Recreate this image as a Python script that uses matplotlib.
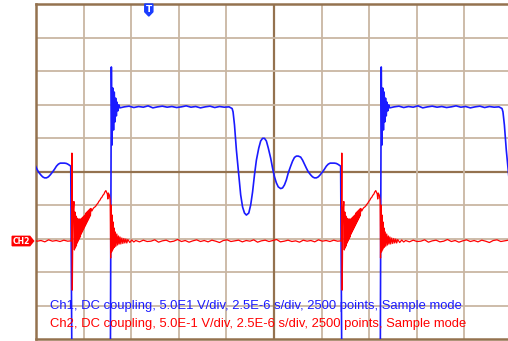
import numpy as np
import matplotlib
matplotlib.use("Agg")
import matplotlib.pyplot as plt
from matplotlib.patches import Polygon

# Screen units: 10 x 10 divisions, y = 0 at the centre line.
# 2.5E-6 s/div; Ch1 50 V/div, Ch2 0.5 V/div.

# Falling edges of Ch1 (the first one lies off-screen to the left)
EDGES = [-4.915, 0.755, 6.425]

# ---- Ch1, one period, time relative to the falling edge (div) ----
CH1_LOW_T = [0.000, 0.807]
CH1_LOW_V = [-6.0, -6.0]
CH1_RING_T = [0.828, 0.842, 0.859, 0.874, 0.889, 0.903, 0.918, 0.933, 0.947,
              0.964, 0.985, 1.006]
CH1_RING_V = [3.12, 0.79, 2.49, 1.24, 2.37, 1.48, 2.19, 1.66, 2.07, 1.81,
              1.99, 1.90]
CH1_FLAT_T = [1.10, 1.20, 1.30, 1.40, 1.50, 1.60, 1.70, 1.80, 1.90, 2.00,
              2.10, 2.20, 2.30, 2.40, 2.50, 2.60, 2.70, 2.80, 2.90, 3.00,
              3.10, 3.20, 3.30]
CH1_FLAT_V = [1.93, 1.95, 1.91, 1.94, 1.92, 1.96, 1.90, 1.93, 1.95, 1.92,
              1.94, 1.91, 1.93, 1.96, 1.92, 1.94, 1.90, 1.93, 1.95, 1.91,
              1.94, 1.92, 1.93]
CH1_FALL_T = [3.365, 3.385, 3.415, 3.455, 3.505, 3.545, 3.585, 3.625, 3.665,
              3.715, 3.755, 3.795, 3.835, 3.875, 3.925, 3.965, 4.005, 4.045,
              4.085, 4.125, 4.175, 4.215, 4.255, 4.295, 4.335, 4.385, 4.425,
              4.465, 4.505, 4.545, 4.595, 4.635, 4.675, 4.715, 4.755, 4.805,
              4.845, 4.885, 4.925, 4.965, 5.015, 5.055, 5.095, 5.135, 5.175,
              5.215, 5.265, 5.305, 5.345, 5.385, 5.425, 5.475, 5.515, 5.555,
              5.595, 5.645]
CH1_FALL_V = [1.88, 1.78, 1.39, 0.64, -0.10, -0.70, -1.06, -1.24, -1.30,
              -1.24, -1.00, -0.61, -0.10, 0.34, 0.70, 0.91, 0.99, 0.99,
              0.91, 0.70, 0.40, 0.10, -0.16, -0.34, -0.46, -0.51, -0.49,
              -0.40, -0.25, -0.04, 0.16, 0.31, 0.42, 0.46, 0.46, 0.43,
              0.34, 0.22, 0.10, -0.01, -0.10, -0.16, -0.19, -0.19, -0.16,
              -0.10, -0.01, 0.07, 0.16, 0.22, 0.25, 0.25, 0.25, 0.24,
              0.21, 0.16]

# ---- Ch2, one period, time relative to the same edge (div) ----
CH2_SPIKE_T = [0.000, 0.008, 0.021, 0.042]
CH2_SPIKE_V = [0.55, -3.54, -1.30, -0.896]
CH2_RING_T = [0.052, 0.063, 0.073, 0.084, 0.094, 0.105, 0.115, 0.126, 0.136,
              0.147, 0.157, 0.167, 0.178, 0.188, 0.199, 0.209, 0.220, 0.230,
              0.241, 0.251, 0.262, 0.272, 0.283, 0.293, 0.304, 0.314, 0.325,
              0.335, 0.346, 0.356, 0.367, 0.377, 0.388, 0.398, 0.419]
CH2_RING_V = [-2.343, -1.209, -2.284, -1.328, -2.224, -1.388, -2.134, -1.418,
              -2.075, -1.418, -2.015, -1.418, -1.955, -1.418, -1.866, -1.388,
              -1.806, -1.358, -1.746, -1.328, -1.687, -1.299, -1.627, -1.239,
              -1.567, -1.209, -1.507, -1.179, -1.448, -1.149, -1.388, -1.119,
              -1.328, -1.104, -1.179]
CH2_RAMP_T = [0.440, 0.461, 0.482, 0.503, 0.524, 0.545, 0.566, 0.587, 0.608,
              0.629, 0.650, 0.671, 0.692, 0.713]
CH2_RAMP_V = [-1.12, -1.08, -1.06, -1.03, -0.98, -0.95, -0.89, -0.86, -0.80,
              -0.77, -0.71, -0.68, -0.61, -0.57]
CH2_DROP_T = [0.744, 0.754, 0.765, 0.786, 0.803, 0.813, 0.824, 0.834, 0.845,
              0.855, 0.866, 0.876, 0.887, 0.897, 0.912, 0.926, 0.943, 0.960,
              0.977, 0.993, 1.010, 1.027, 1.048, 1.069, 1.090, 1.111, 1.132,
              1.153, 1.174, 1.216, 1.258, 1.300]
CH2_DROP_V = [-0.672, -0.821, -0.642, -0.701, -0.851, -2.582, -1.0, -2.403,
              -1.299, -2.343, -1.507, -2.284, -1.687, -2.254, -1.806, -2.224,
              -1.866, -2.194, -1.925, -2.164, -1.955, -2.164, -1.985, -2.149,
              -2.0, -2.134, -2.015, -2.134, -2.030, -2.119, -2.045, -2.104]
# baseline samples, evenly spaced from 1.34 to 5.66 div after the edge
CH2_BASE_V = [-2.06, -2.10, -2.05, -2.09, -2.08, -2.04, -2.11, -2.07, -2.05,
              -2.10, -2.08, -2.03, -2.09, -2.06, -2.11, -2.07, -2.04, -2.09,
              -2.06, -2.10, -2.05, -2.08, -2.12, -2.06, -2.04, -2.09, -2.07,
              -2.05, -2.10, -2.06, -2.08, -2.04, -2.11, -2.07, -2.05, -2.09,
              -2.06, -2.03, -2.10, -2.08, -2.05, -2.09, -2.07, -2.11, -2.05,
              -2.08, -2.06, -2.10, -2.04, -2.08, -2.06, -2.09, -2.05, -2.08,
              -2.07]

CH2_REF = -2.075      # CH2 ground marker level
TRIG_T = 2.37         # trigger position marker

LABEL_CH1 = "Ch1, DC coupling, 5.0E1 V/div, 2.5E-6 s/div, 2500 points, Sample mode"
LABEL_CH2 = "Ch2, DC coupling, 5.0E-1 V/div, 2.5E-6 s/div, 2500 points, Sample mode"

BLUE = "#1a1aff"
RED = "#ff0000"
GRID = "#c9b6a3"
FRAME = "#94724f"


def build(parts_t, parts_v):
    rel_t = np.concatenate([np.asarray(p, float) for p in parts_t])
    rel_v = np.concatenate([np.asarray(p, float) for p in parts_v])
    t = np.concatenate([e + rel_t for e in EDGES])
    v = np.tile(rel_v, len(EDGES))
    return t, v


ch1_t, ch1_v = build([CH1_LOW_T, CH1_RING_T, CH1_FLAT_T, CH1_FALL_T],
                     [CH1_LOW_V, CH1_RING_V, CH1_FLAT_V, CH1_FALL_V])
base_t = np.linspace(1.34, 5.66, len(CH2_BASE_V))
ch2_t, ch2_v = build([CH2_SPIKE_T, CH2_RING_T, CH2_RAMP_T, CH2_DROP_T, base_t],
                     [CH2_SPIKE_V, CH2_RING_V, CH2_RAMP_V, CH2_DROP_V, CH2_BASE_V])

fig = plt.figure(figsize=(5.08, 3.41), dpi=100)
fig.patch.set_facecolor("white")
# screen is 10 div wide; the right edge falls just outside the picture
ax = fig.add_axes([36 / 508, 2 / 341, 476 / 508, 335 / 341])
ax.set_xlim(0, 10)
ax.set_ylim(-5, 5)
ax.set_xticks([])
ax.set_yticks([])
for s in ax.spines.values():
    s.set_color(FRAME)
    s.set_linewidth(1.8)

for i in range(1, 10):
    c, w = (FRAME, 1.6) if i == 5 else (GRID, 1.3)
    ax.axvline(i, color=c, lw=w, zorder=1)
    ax.axhline(i - 5, color=c, lw=w, zorder=1)

ax.plot(ch1_t, ch1_v, color=BLUE, lw=1.2, zorder=3)
ax.plot(ch2_t, ch2_v, color=RED, lw=0.9, zorder=4)

# trigger marker at the top
tw, th = 0.085, 0.36
ax.add_patch(Polygon([(TRIG_T - tw, 5), (TRIG_T + tw, 5),
                      (TRIG_T + tw, 5 - th * 0.65), (TRIG_T, 5 - th),
                      (TRIG_T - tw, 5 - th * 0.65)],
                     closed=True, color="#1a3cff", clip_on=False, zorder=6))
ax.text(TRIG_T, 5 - th * 0.42, "T", color="white", fontsize=6.5,
        fontweight="bold", ha="center", va="center", zorder=7,
        family="DejaVu Sans")

# CH2 reference marker left of the screen
mh = 0.14
ax.add_patch(Polygon([(-0.50, CH2_REF + mh), (-0.13, CH2_REF + mh),
                      (-0.05, CH2_REF), (-0.13, CH2_REF - mh),
                      (-0.50, CH2_REF - mh)],
                     closed=True, color=RED, clip_on=False, zorder=6))
ax.text(-0.30, CH2_REF, "CH2", color="white", fontsize=5.5,
        fontweight="bold", ha="center", va="center", zorder=7,
        family="DejaVu Sans")

fig.text(50 / 508, (341 - 306) / 341, LABEL_CH1, color=BLUE,
         fontsize=9.4, family="Liberation Sans", va="center", ha="left")
fig.text(50 / 508, (341 - 324.5) / 341, LABEL_CH2, color=RED,
         fontsize=9.4, family="Liberation Sans", va="center", ha="left")

fig.savefig("out.png", dpi=100, facecolor="white")
